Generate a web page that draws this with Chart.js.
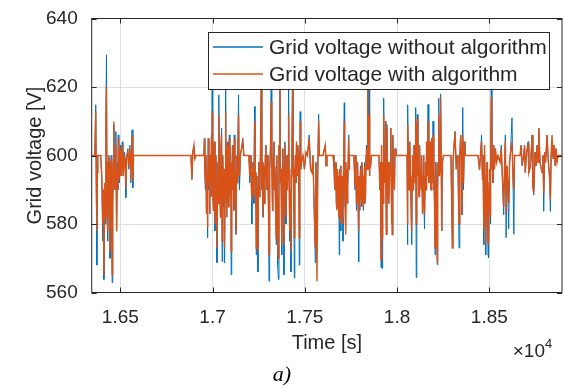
<!DOCTYPE html>
<html>
<head>
<meta charset="utf-8">
<script src="https://cdn.jsdelivr.net/npm/chart.js@4"></script>
<style>
  html, body { margin: 0; padding: 0; background: #fff; }
  #wrap { position: relative; width: 564px; height: 389px; }
  #caption {
    position: absolute; left: 0; top: 361px; width: 564px;
    text-align: center; color: #000;
    font: italic 22px "Liberation Serif", "Times New Roman", serif;
  }
</style>
</head>
<body>
<div id="wrap">
  <canvas id="chart" width="564" height="389"></canvas>
  <div id="caption">a)</div>
</div>
<script>
// Time samples [s]
const times = [
  // first burst + idle
  16346,16362,16367,16370,16373,16376,16378,16394,16400,16405,16408,16411,16416,16419,16422,16425,16428,16430,16433,16435,16438,16441,16444,16446,16449,16451,16454,16456,16458,16460,16463,16465,16468,16470,16473,16476,16480,16484,16487,16489,16492,16495,16500,16503,16506,16511,16514,16516,16522,16526,16530,16535,16541,16546,16552,16557,16564,16568,16572,16883,16888,16893,16899,16904,16910,16953,
  // 1.70
  16956,16958,16961,16964,16967,16970,16972,16975,16977,16980,16982,16984,16986,16988,16991,16994,16996,16998,17000,17002,17005,17007,17010,17013,17016,17018,17021,17024,17027,17029,17032,17034,17037,17040,17043,17045,17049,17052,17054,17056,17058,17061,17063,17065,17068,17071,17073,17075,17078,17080,17083,17086,17089,17091,17094,17097,17099,17101,17104,17108,17110,17113,17116,17118,17121,17124,17127,17130,17132,17135,17137,17141,17144,17146,17151,17164,17170,17197,
  // 1.72 - 1.75
  17202,17205,17208,17211,17213,17216,17219,17221,17224,17228,17230,17232,17235,17237,17240,17243,17246,17249,17251,17254,17257,17260,17264,17266,17268,17271,17273,17276,17278,17281,17284,17286,17289,17292,17295,17297,17300,17303,17306,17308,17311,17314,17318,17320,17322,17325,17327,17330,17333,17335,17338,17341,17345,17347,17349,17351,17353,17357,17360,17363,17365,17368,17371,17374,17376,17379,17381,17384,17387,17389,17392,17395,17398,17400,17403,17406,17409,17412,17415,17417,17419,17422,17425,17428,17430,17434,17436,17438,17441,17443,17446,17449,17452,17455,17458,17460,17463,17466,17468,17470,17473,17475,17478,17482,
  17490,17498,17506,17514,17524,17531,17539,17544,17557,17560,17566,17571,17575,17579,17598,17611,17615,17620,17653,
  // 1.77
  17658,17661,17663,17666,17669,17671,17674,17677,17680,17683,17685,17687,17689,17691,17694,17696,17699,17701,17704,17707,17710,17714,17716,17718,17721,17723,17726,17729,17731,17734,17738,17740,17742,17766,
  17772,17775,17777,17780,17783,17786,17789,17792,17794,17796,17799,17802,17805,17807,17810,17813,17816,17818,17821,17823,17826,17829,17832,17834,17838,17841,17845,17848,17850,17853,17857,17861,17902,
  // 1.79 - 1.80
  17907,17910,17913,17915,17917,17920,17922,17924,17926,17929,17932,17935,17938,17940,17942,17945,17948,17951,17953,17956,17959,17962,17966,17968,17970,17972,17974,17976,17978,17981,17983,17986,17989,17994,18054,
  // 1.81 - 1.83
  18056,18059,18062,18065,18067,18070,18073,18076,18079,18082,18084,18087,18089,18092,18095,18098,18101,18104,18107,18110,18113,18116,18119,18122,18125,18128,18131,18133,18136,18138,18141,18143,18146,18149,18152,18154,18157,18160,18164,18168,18171,18173,18176,18179,18181,18184,18187,18189,18192,18195,18198,18200,18203,18206,18209,18211,18215,18218,18220,18222,18225,18227,18230,18233,18235,18237,18240,18242,18244,18246,18252,18292,
  18300,18303,18314,18321,18325,18330,18336,18340,18345,18349,18352,18356,18360,18365,18368,18439,
  // 1.85
  18447,18452,18458,18463,18466,18470,18472,18474,18477,18479,18482,18485,18488,18490,18493,18495,18497,18499,18501,18504,18506,18508,18511,18514,18516,18520,18524,18528,18533,18539,18547,
  // tail
  18558,18565,18569,18578,18583,18587,18591,18596,18605,18610,18615,18623,18628,18633,18637,18667,18672,18678,18686,18691,18695,18702,18710,18714,18723,18726,18732,18736,18741,18748,18753,18759,18764,18768,18775,18786,18791,18795,18800,18805,18813,18819,18826,18831,18835,18840,18846,18851,18857,18862,18867,18873,18894
];

// Grid voltage without algorithm [V]
const withoutAlg = [
  600,600,614.8,590,568,595,600,600,592,575,590,563.8,590,580,612,629.4,585,598,575,585,600,598,570,580,595,600,575,562.9,578,585,598,609,596,590,600,607,578,598,590,606,598,592,603,594,597,604,596,594,601,599,587.7,600,602,596,603,592,607.5,590.6,600,600,593,601,603,599,600,600,
  605,596,590,600,583,595,576,590,605,590,600,583,594,600,588,606,592,623,598,590,584,598,604,578,592,600,590,568.7,590,598,586,617.7,596,590,582,602,608,569,592,600,592,585,596,568.7,596,623,595,590,582,604,594,585,598,606,594,588,598,565.2,590,603,590,592,584,606,590,595,577,594,600,592,603,617.7,595,590,600,605,600,600,
  592,600,596,590,580,595,598,590,586,614.3,598,595,585,571,594,586,566,590,598,588,592,602,623,596,590,598,582,592,597,586,592,600,603,594,590,600,596,585,563.3,590,596,602,624,596,598,584,590,600,604,590,596,586,574,594,600,588,568,563.8,603,596,624,592,596,588,571,594,602,590,565.2,596,604,594,580,596,600,590,600,624,596,592,575,590,566,594,600,624,598,596,584,564.3,594,600,592,604,596,594,603,600,590,568,596,612.8,596,598,
  600,596,601,600,606,596,595,600,568.7,598,580,598,612,600,600,603,597,600,600,
  597,592,590,598,594,586,585,596,592,582,594,571,596,588,597,578,594,590,582,575,596,615.4,592,585,598,590,596,595,586,592,606,596,600,600,
  590,600,596,584,588,598,586,569,594,592,584,597,590,585,598,596,586,584,594,598,586,588,600,603,596,624,596,624,594,598,597,600,600,
  590,598,567.3,590,603,567,590,598,586,616.8,592,596,610,596,577,609,596,590,598,586,594,598,608,594,580,596,576.9,592,606,592,596,590,602,600,600,
  574,614.8,596,590,598,604,594,585,574,594,600,590,595,603,600,592,614,564.4,596,612,594,596,588,603,594,595,590,600,592,583,594,600,588,578.6,594,598,590,604,594,614.9,596,592,600,604,592,590,600,605,592,610,590,596,586,571,592,598,584,568.1,590,598,594,616.7,594,596,604,618,594,578,594,598,600,600,
  573,598,607,596,600,598,573,600,606,598,582.7,614,590,604,600,600,
  595.8,600,606,593,600,574,594,603,592,586,571,594,598,586,571,590,570.2,592,596,588,580,596,624,596,598,592,603,596,602,598,600,
  598,603,596,582.7,598,606,576,597,578.6,598,601,611,594,577,600,600,603,597,600,603,595,601,604,595,597,600,606,591,588.5,601,597,603,598,608,598,595,600,583.7,601,598,606,599,594,583.7,600,604,599,603,597,602,598,600,600
];

// Grid voltage with algorithm [V]
const withAlg = [
  600,600,612.8,592,578,595,600,600,594,580,590,565.2,592,582,610,620.1,585,598,578,588,600,597,572,584,595,599,576,565.2,580,585,598,609.9,596,590,600,603,577.8,596,590,605,598,593,602,594,596,603,596,594,600,598,590.6,600,601,597,602,593,606,592.4,600,600,593,601,603,599,600,600,
  605,596,592,600,583,595,579,590,605,592,600,583,594,599,588,605,592,613,598,590,584,598,604,580,592,600,590,573,590,598,586,612,596,590,582,600,606,575,592,600,592,587,596,573,596,612.8,595,590,582,603,594,585,598,605,594,588,598,572,590,603,590,592,584,605,590,595,577,594,600,592,602,612,595,594,600,604,600,600,
  594,600,597,590,586.6,595,598,590,588,610,598,595,585,573,594,586,572,590,598,588,593,602,621,596,590,598,582,592,597,586,592,600,603,594,590,600,596,585,571,590,596,602,615.7,596,598,584,590,600,604,590,597,586,576,594,600,588,575,570,603,596,624,592,596,588,574,594,602,590,574,596,603,594,582,596,600,590,600,612,596,592,578,590,572,594,600,622,598,596,584,576,594,600,592,604,596,594,603,600,590,576,596,610,596,598,
  600,596,601,600,605,596,595,600,573,598,563.3,598,610,600,600,603,597,600,600,
  597,592,590,598,594,586,584,596,592,582,594,582,596,586,597,580,594,588,580,580,596,610,592,585,598,576.9,596,594,586,592,605,596,600,600,
  591,600,596,586,588,598,586,578,594,592,584,596,590,586,598,596,586,585,594,597,586,588,600,602,596,622,596,612,594,598,597,600,600,
  590,598,569.4,590,603,576,590,598,586,612,592,596,610,596,577,608,596,590,598,586,594,598,608,594,580,596,576.9,592,606,592,596,590,602,600,600,
  580,609,596,590,598,604,594,587,577.8,594,600,590,595,603,600,592,610,580,596,611,594,596,588,603,594,595,590,600,592,583,594,600,588,583,594,598,590,604,594,610,596,592,600,604,592,590,600,605,592,606,590,596,586,573,592,598,584,569,590,598,594,612,594,596,604,617,594,578,594,598,600,600,
  573,598,607,596,600,598,580,600,606,598,582.7,606,592,604,600,600,
  595.8,600,604,593,600,578.6,594,603,592,586,574,594,598,586,575,590,574,592,596,588,582,596,617,596,598,592,603,596,602,598,600,
  598,602,596,585,598,604,583,597,586,598,601,604,594,590,600,600,603,597,600,603,595,601,603,595,597,600,606,591,589,601,597,603,598,608,598,595,600,589,601,598,606,599,594,587,600,606,599,603,597,602,598,600,600
];

const xTicks = [16500, 17000, 17500, 18000, 18500];
const yTicks = [560, 580, 600, 620, 640];
const seriesNames = ['Grid voltage without algorithm', 'Grid voltage with algorithm'];
const seriesColors = ['#0072BD', '#D95319'];

const FONT = '"Liberation Sans", Arial, Helvetica, sans-serif';
const INK = '#262626';

Chart.defaults.font.family = FONT;
Chart.defaults.color = INK;

function pts(vals) {
  return times.map((t, i) => ({ x: t, y: vals[i] }));
}

/* legend box inside the axes, drawn over the traces */
const legendBox = {
  id: 'legendBox',
  afterDatasetsDraw(chart) {
    const ctx = chart.ctx;
    ctx.save();
    ctx.fillStyle = '#fff';
    ctx.fillRect(208, 32, 341, 57);
    ctx.strokeStyle = INK;
    ctx.lineWidth = 1;
    ctx.strokeRect(208.5, 32.5, 341, 57);
    chart.data.datasets.forEach((ds, i) => {
      const y = 47 + i * 27;
      ctx.strokeStyle = ds.borderColor;
      ctx.lineWidth = 1.5;
      ctx.beginPath();
      ctx.moveTo(213, y);
      ctx.lineTo(263, y);
      ctx.stroke();
      ctx.fillStyle = INK;
      ctx.font = '21px ' + FONT;
      ctx.textBaseline = 'middle';
      ctx.textAlign = 'left';
      ctx.fillText(ds.label, 269, y + 1);
    });
    ctx.restore();
  }
};

/* box, inward ticks and the x10^4 exponent */
const frame = {
  id: 'frame',
  afterDraw(chart) {
    const { ctx, chartArea: a, scales } = chart;
    ctx.save();
    ctx.strokeStyle = INK;
    ctx.lineWidth = 1;
    ctx.strokeRect(a.left, a.top, a.right - a.left, a.bottom - a.top);
    ctx.beginPath();
    xTicks.forEach(v => {
      const px = Math.round(scales.x.getPixelForValue(v)) + 0.5;
      ctx.moveTo(px, a.bottom); ctx.lineTo(px, a.bottom - 5);
      ctx.moveTo(px, a.top); ctx.lineTo(px, a.top + 5);
    });
    yTicks.forEach(v => {
      const py = Math.round(scales.y.getPixelForValue(v)) + 0.5;
      ctx.moveTo(a.left, py); ctx.lineTo(a.left + 5, py);
      ctx.moveTo(a.right, py); ctx.lineTo(a.right - 5, py);
    });
    ctx.stroke();

    ctx.fillStyle = INK;
    ctx.textBaseline = 'alphabetic';
    ctx.textAlign = 'right';
    ctx.font = '19px ' + FONT;
    ctx.fillText('\u00d710', 545, 357);
    ctx.textAlign = 'left';
    ctx.font = '13px ' + FONT;
    ctx.fillText('4', 545, 348);
    ctx.restore();
  }
};

new Chart(document.getElementById('chart'), {
  type: 'line',
  data: {
    datasets: [
      { label: seriesNames[0], data: pts(withoutAlg), borderColor: seriesColors[0], borderWidth: 1, pointRadius: 0, tension: 0, order: 1 },
      { label: seriesNames[1], data: pts(withAlg), borderColor: seriesColors[1], borderWidth: 1.4, pointRadius: 0, tension: 0, order: 0 }
    ]
  },
  options: {
    responsive: false,
    animation: false,
    devicePixelRatio: 1,
    layout: { padding: { top: 18.5, right: 2, left: 0, bottom: 0 } },
    plugins: { legend: { display: false }, tooltip: { enabled: false } },
    scales: {
      x: {
        type: 'linear',
        min: 16345,
        max: 18894,
        afterBuildTicks: s => { s.ticks = xTicks.map(v => ({ value: v })); },
        afterFit: s => { s.height = 96.5; s.paddingLeft = 0; s.paddingRight = 0; },
        ticks: { callback: v => String(v / 10000), font: { size: 19 }, padding: 14, maxRotation: 0, autoSkip: false },
        grid: { color: '#dedede', drawTicks: false },
        border: { display: false },
        title: { display: true, text: 'Time [s]', font: { size: 20 }, padding: { top: 0, bottom: 34 } }
      },
      y: {
        min: 560,
        max: 640,
        afterBuildTicks: s => { s.ticks = yTicks.map(v => ({ value: v })); },
        afterFit: s => { s.width = 91.7; s.paddingTop = 0; s.paddingBottom = 0; },
        ticks: { font: { size: 19 }, padding: 14 },
        grid: { color: '#dedede', drawTicks: false },
        border: { display: false },
        title: { display: true, text: 'Grid voltage [V]', font: { size: 20 }, padding: { top: 23, bottom: 0 } }
      }
    }
  },
  plugins: [legendBox, frame]
});
</script>
</body>
</html>
